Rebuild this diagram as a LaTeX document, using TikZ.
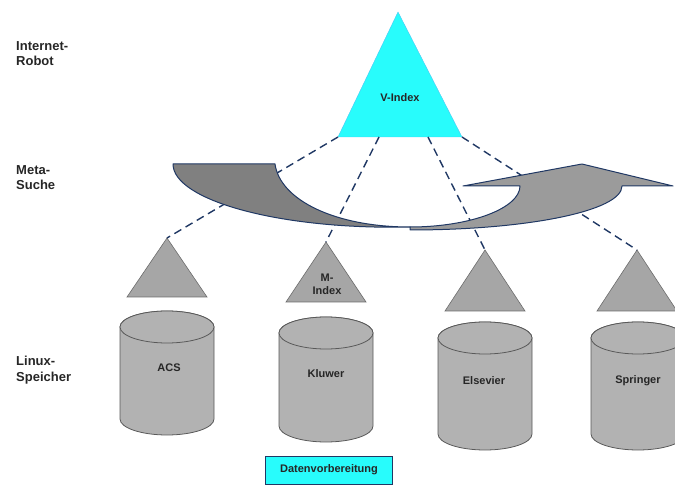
\documentclass[tikz,border=0pt]{standalone}
\usepackage{fontspec}
\setmainfont{Liberation Sans}
\usetikzlibrary{positioning}

\definecolor{vcyan}{RGB}{40,252,252}
\definecolor{navyline}{RGB}{32,56,100}
\definecolor{banddark}{RGB}{128,128,128}
\definecolor{bandlight}{RGB}{155,155,155}
\definecolor{idxgray}{RGB}{166,166,166}
\definecolor{dbgray}{RGB}{178,178,178}

\tikzset{
  layer/.style={font=\bfseries\fontsize{13}{15.5}\selectfont, align=left, anchor=north west, inner sep=0pt, text=black!85},
  lbl/.style={font=\bfseries\fontsize{11}{13}\selectfont, text=black!85, align=center, inner sep=0pt},
  link/.style={draw=navyline, line width=1.4pt, dash pattern=on 8pt off 5pt},
  idx/.style={fill=idxgray, draw=gray!85!black, line width=0.6pt},
  db/.style={fill=dbgray, draw=gray!70!black, line width=0.8pt},
  band/.style={draw=navyline, line width=1pt, line join=round},
}

\begin{document}
\begin{tikzpicture}[x=1pt,y=-1pt]
\useasboundingbox (0,0) rectangle (675,486);

% layer labels
\node[layer] (robot) at (16,41) {Internet-\\Robot};
\node[layer] (meta) at (16,165) {Meta-\\Suche};
\node[layer] (linux) at (16,356) {Linux-\\Speicher};

% V-Index
\coordinate (vtop) at (398,12);
\coordinate (vleft) at (338,137);
\coordinate (vright) at (462,137);
\coordinate (vin1) at (379,137);
\coordinate (vin2) at (428,137);
\filldraw[fill=vcyan, draw=cyan!70] (vtop) -- (vright) -- (vleft) -- cycle;
\node[lbl] (vindex) at (400,98) {V-Index};

% M-Index triangles
\foreach[count=\i] \x/\y/\b in {167/238/297, 326/242/302, 485/250/311, 637/250/311}
{
	\coordinate (top\i) at (\x,\y);
	\filldraw[idx] (top\i) -- (\x+40,\b) -- (\x-40,\b) -- cycle;
}
\node[lbl] (mindex) at (327,284) {M-\\Index};

% dashed links
\draw[link] (vleft) -- (top1);
\draw[link] (vin1) -- (top2);
\draw[link] (vin2) -- (top3);
\draw[link] (vright) -- (top4);

% curved arrow (meta search)
\filldraw[band, fill=banddark] (173,164) -- (275,164)
	.. controls (280,200) and (335,227) .. (410,227)
	.. controls (279,230) and (173,200) .. (173,164) -- cycle;
\filldraw[band, fill=bandlight] (410,227)
	.. controls (471,227) and (520,208) .. (520,186) -- (463,186) -- (582,164)
	-- (673,186) -- (622,186)
	.. controls (622,211) and (527,230) .. (410,230) -- cycle;

% storage
\foreach \n/\x/\y/\h in {acs/167/311/92, kluwer/326/317/93, elsevier/485/322/96, springer/638/322/96}
{
	\filldraw[db] (\x-47,\y+16) -- (\x-47,\y+16+\h)
		arc[start angle=180, end angle=0, x radius=47, y radius=16]
		-- (\x+47,\y+16)
		arc[start angle=0, end angle=-180, x radius=47, y radius=16] -- cycle;
	\draw[db] (\x,\y+16) ellipse [x radius=47, y radius=16];
}
\node[lbl] (acs) at (169,368) {ACS};
\node[lbl] (kluwer) at (326,374) {Kluwer};
\node[lbl] (elsevier) at (484,381) {Elsevier};
\node[lbl] (springer) at (638,381) {Springer};

% preparation box
\node[lbl, draw=navyline, fill=vcyan, line width=0.8pt, minimum width=127pt, minimum height=28pt] (prep) at (329,470) {Datenvorbereitung};

\end{tikzpicture}
\end{document}
